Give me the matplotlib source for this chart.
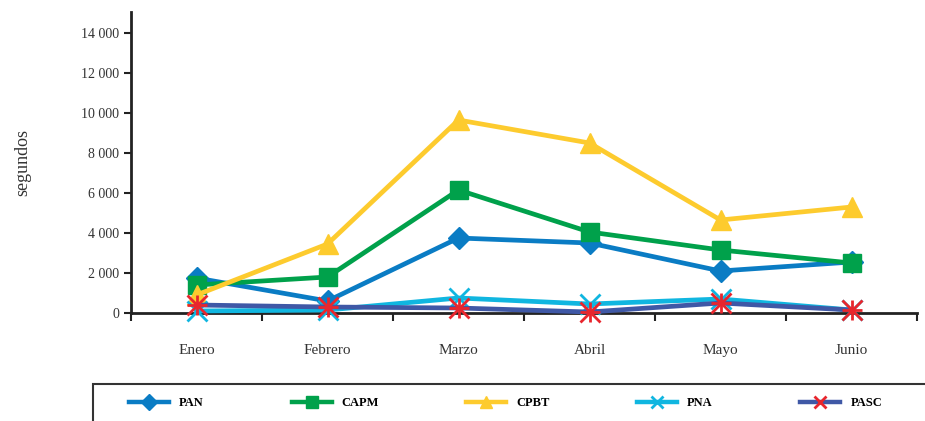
import matplotlib.pyplot as plt
from matplotlib.patches import Rectangle
from matplotlib.lines import Line2D
from matplotlib.ticker import FuncFormatter

plt.rcParams['font.family'] = 'Liberation Serif'

meses = ["Enero", "Febrero", "Marzo", "Abril", "Mayo", "Junio"]
pan = [1750, 600, 3750, 3500, 2100, 2550]
capm = [1400, 1800, 6150, 4050, 3150, 2500]
cpbt = [900, 3450, 9650, 8500, 4650, 5300]
pna = [100, 150, 750, 450, 700, 150]
pasc = [400, 300, 250, 50, 500, 150]

series = [
    ("PAN", pan, "#0a7cc4", "#0a7cc4", "D", 11),
    ("CAPM", capm, "#00a14b", "#00a14b", "s", 13),
    ("CPBT", cpbt, "#fdcb2e", "#fdcb2e", "^", 14),
    ("PNA", pna, "#10b6e0", "#10b6e0", "x", 14),
    ("PASC", pasc, "#3f58a6", "#e8262d", "x", 14),
]

fig = plt.figure(figsize=(9.25, 4.21), dpi=100)
ax = fig.add_axes([131 / 925, 1 - 313 / 421, (917 - 131) / 925, (313 - 12) / 421])

x = list(range(len(meses)))
handles = []
for name, vals, lc, mc, mk, ms in series:
    mew = 2 if mk == "x" else 1
    ax.plot(x, vals, color=lc, lw=3.4, marker=mk, ms=ms, mfc=mc, mec=mc,
            mew=mew, clip_on=False, zorder=3)
    if name == "PASC":
        ax.plot(x, vals, ls="none", marker="+", ms=ms, mec=mc, mew=2,
                clip_on=False, zorder=4)
    handles.append(Line2D([], [], color=lc, lw=3.2, marker=mk, ms=8,
                          mfc=mc, mec=mc, mew=mew))

ax.set_xlim(-0.5, 5.5)
ax.set_ylim(0, 15050)
ax.set_yticks(range(0, 14001, 2000))
ax.yaxis.set_major_formatter(FuncFormatter(lambda v, p: f"{int(v):,}".replace(",", " ")))
ax.set_xticks(x)
ax.set_xticklabels(meses)
ax.set_xticks([i + 0.5 for i in range(-1, 6)], minor=True)
ax.tick_params(axis="x", which="major", length=0, pad=22, labelsize=11, labelcolor="#333333")
ax.tick_params(axis="x", which="minor", length=6, width=1.5, direction="out", color="#222222")
ax.tick_params(axis="y", length=5, width=1.5, labelsize=10, labelcolor="#333333", color="#222222")
for s in ["top", "right"]:
    ax.spines[s].set_visible(False)
for s in ["left", "bottom"]:
    ax.spines[s].set_linewidth(2)
    ax.spines[s].set_color("#222222")
ax.set_ylabel("segundos", fontsize=13, color="#333333", labelpad=36)

# legend box (partly outside the canvas, like the original)
fig.patches.append(Rectangle((93 / 925, -0.2), 1.0, 1 - 384 / 421 + 0.2,
                             transform=fig.transFigure, fill=False,
                             ec="#333333", lw=1.5))
leg = fig.legend(handles, [s[0] for s in series], loc="center left",
                 bbox_to_anchor=(118 / 925, 1 - 403 / 421), ncol=5, frameon=False,
                 handlelength=3.2, columnspacing=7.0,
                 prop={"family": "Liberation Serif", "weight": "bold", "size": 9})

fig.savefig("out.png", dpi=100)
